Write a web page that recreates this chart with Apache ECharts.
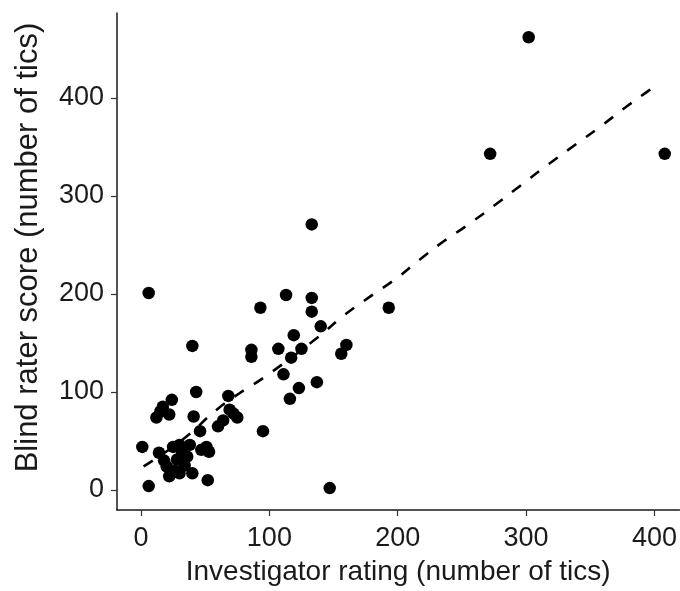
<!DOCTYPE html>
<html>
<head>
<meta charset="utf-8">
<script src="https://cdn.jsdelivr.net/npm/echarts@6/dist/echarts.min.js"></script>
<style>
  html, body { margin: 0; padding: 0; background: #fff; }
  #chart { width: 680px; height: 591px; }
</style>
</head>
<body>
<div id="chart"></div>
<script>
// investigator rating (x) vs blind rater score (y)
const investigatorRating = [
  1, 6, 6, 12, 15, 17, 22, 24, 14, 18, 20, 22, 25, 26, 28, 30, 30, 32, 34, 36,
  38, 40, 40, 43, 41, 46, 47, 51, 53, 52, 60, 64, 68, 69, 72, 75, 86, 86, 93, 95,
  107, 111, 113, 116, 117, 119, 123, 125, 133, 133, 133, 137, 140, 147, 156, 160,
  193, 272, 302, 408
];
const blindScore = [
  44, 201, 4, 74, 80, 85, 77, 92, 38, 30, 24, 14, 44, 20, 31, 46, 17, 38, 25, 34,
  46, 17, 147, 100, 75, 60, 41, 44, 39, 10, 65, 71, 96, 82, 78, 74, 143, 136, 186, 60,
  144, 118, 199, 93, 135, 158, 104, 144, 271, 196, 182, 110, 167, 2, 139, 148,
  186, 343, 462, 343
];

// smoothed trend (dashed curve)
const trendX = [2, 33, 59, 77, 96, 137, 157, 177, 199, 217, 235, 254, 277, 295, 316, 338, 357, 378, 396, 402];
const trendY = [24, 52, 82, 99, 115, 155, 177, 196, 216, 235, 253, 270, 292, 310, 331, 352, 370, 391, 408, 414];

const tickValues = [0, 100, 200, 300, 400];

const points = investigatorRating.map((x, i) => [x, blindScore[i]]);
const trend = trendX.map((x, i) => [x, trendY[i]]);

const fontFamily = 'Liberation Sans, Arial, sans-serif';
const axisText = { color: '#1a1a1a', fontSize: 27, fontFamily };

const chart = echarts.init(document.getElementById('chart'), null, { renderer: 'canvas' });

chart.setOption({
  backgroundColor: '#ffffff',
  animation: false,
  grid: { left: 117, right: 0, top: 13, bottom: 81 },
  xAxis: {
    type: 'value',
    min: -18.7,
    max: 419.4,
    name: 'Investigator rating (number of tics)',
    nameLocation: 'middle',
    nameGap: 48,
    nameTextStyle: { color: '#1a1a1a', fontSize: 28, fontFamily },
    axisLine: { show: true, onZero: false, lineStyle: { color: '#1a1a1a', width: 1.5 } },
    axisTick: { show: true, length: 6, customValues: tickValues, lineStyle: { color: '#333', width: 1.2 } },
    axisLabel: { customValues: tickValues, margin: 15, ...axisText },
    splitLine: { show: false }
  },
  yAxis: {
    type: 'value',
    min: -20.4,
    max: 486.7,
    name: 'Blind rater score (number of tics)',
    nameLocation: 'middle',
    nameGap: 73,
    nameTextStyle: { color: '#1a1a1a', fontSize: 31, fontFamily, padding: [0, 0, 0, 28] },
    axisLine: { show: true, onZero: false, lineStyle: { color: '#1a1a1a', width: 1.5 } },
    axisTick: { show: true, length: 6, customValues: tickValues, lineStyle: { color: '#333', width: 1.2 } },
    axisLabel: { customValues: tickValues, margin: 13, ...axisText },
    splitLine: { show: false }
  },
  series: [
    {
      type: 'scatter',
      data: points,
      symbol: 'circle',
      symbolSize: 12.5,
      itemStyle: { color: '#000000', opacity: 1 },
      z: 2
    },
    {
      type: 'line',
      data: trend,
      smooth: true,
      showSymbol: false,
      symbol: 'none',
      lineStyle: { color: '#000000', width: 2.6, type: [11, 12] },
      z: 3
    }
  ]
});
</script>
</body>
</html>
